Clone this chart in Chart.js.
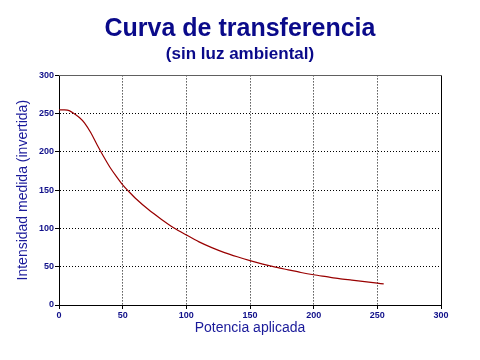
<!DOCTYPE html>
<html>
<head>
<meta charset="utf-8">
<script src="https://cdn.jsdelivr.net/npm/chart.js@4/dist/chart.umd.min.js"></script>
<style>
  body { margin: 0; background: #fff; }
  canvas { display: block; }
</style>
</head>
<body>
<canvas id="transferChart" width="480" height="360"></canvas>
<script>
// ============================================
// DATA
// ============================================

const POTENCIA = [0, 4, 8, 12, 16, 20, 25, 30, 35, 40, 45, 50, 55, 60, 70, 80, 90, 100,
  110, 120, 130, 140, 150, 160, 170, 180, 190, 200, 210, 220, 230, 240, 250, 255];

const INTENSIDAD = [255, 255, 254, 250, 245, 238, 225, 209, 194, 180, 168, 157, 148, 139.5, 125, 112.5, 101, 91.5,
  82.5, 75, 68.5, 63, 58, 53.5, 49.5, 46, 42.5, 39.5, 37, 34.5, 32.5, 30.5, 28.5, 27.5];

const AXIS_MIN = 0;
const AXIS_MAX = 300;
const AXIS_STEP = 50;


const NAVY = "#0a0a8a";
const BLUE = "#1a1a9a";
const TICK_BLUE = "#10108a";
const CURVE = "#990000";
const FONT = "'Liberation Sans', Arial, sans-serif";


// ============================================
// CHART
// ============================================

const ctx = document.getElementById("transferChart");

new Chart(ctx, {

  type: "line",

  data: {
    datasets: [{
      data: POTENCIA.map((x, i) => ({ x, y: INTENSIDAD[i] })),
      borderColor: CURVE,
      borderWidth: 1.2,
      pointRadius: 0,
      tension: 0.3,
      fill: false
    }]
  },

  options: {
    responsive: false,
    animation: false,
    devicePixelRatio: 1,
    layout: { padding: 0 },

    plugins: {
      legend: { display: false },
      tooltip: { enabled: false },
      title: {
        display: true,
        text: "Curva de transferencia",
        color: NAVY,
        font: { family: FONT, size: 25, weight: "bold" },
        padding: { top: 14, bottom: 0 }
      },
      subtitle: {
        display: true,
        text: "(sin luz ambiental)",
        color: NAVY,
        font: { family: FONT, size: 17, weight: "bold" },
        padding: { top: 0, bottom: 11 }
      }
    },

    scales: {

      x: {
        type: "linear",
        position: "bottom",
        min: AXIS_MIN,
        max: AXIS_MAX,
        afterFit: s => { s.height = 55; },
        ticks: {
          stepSize: AXIS_STEP,
          color: TICK_BLUE,
          padding: 1,
          maxRotation: 0,
          font: { family: FONT, size: 9, weight: "bold" }
        },
        grid: { color: "#000", tickLength: 4 },
        border: { color: "#000", width: 1, dash: [1, 2] },
        title: {
          display: true,
          text: "Potencia aplicada",
          color: BLUE,
          font: { family: FONT, size: 14 },
          padding: { top: 0, bottom: 23 }
        }
      },

      y: {
        type: "linear",
        position: "left",
        min: AXIS_MIN,
        max: AXIS_MAX,
        afterFit: s => { s.width = 59; },
        ticks: {
          stepSize: AXIS_STEP,
          color: TICK_BLUE,
          padding: 1,
          font: { family: FONT, size: 9, weight: "bold" }
        },
        grid: { color: "#000", tickLength: 4 },
        border: { color: "#000", width: 1, dash: [1, 2] },
        title: {
          display: true,
          text: "Intensidad medida (invertida)",
          color: BLUE,
          font: { family: FONT, size: 14 },
          padding: { top: 15, bottom: 0 }
        }
      },

      // frame edges
      yRight: {
        type: "linear",
        position: "right",
        afterFit: s => { s.width = 39; },
        ticks: { display: false },
        grid: { display: false },
        border: { color: "#000", width: 1 }
      },

      xTop: {
        type: "linear",
        position: "top",
        afterFit: s => { s.height = 0; },
        ticks: { display: false },
        grid: { display: false },
        border: { color: "#606060", width: 1 }
      }

    }
  }

});
</script>
</body>
</html>
